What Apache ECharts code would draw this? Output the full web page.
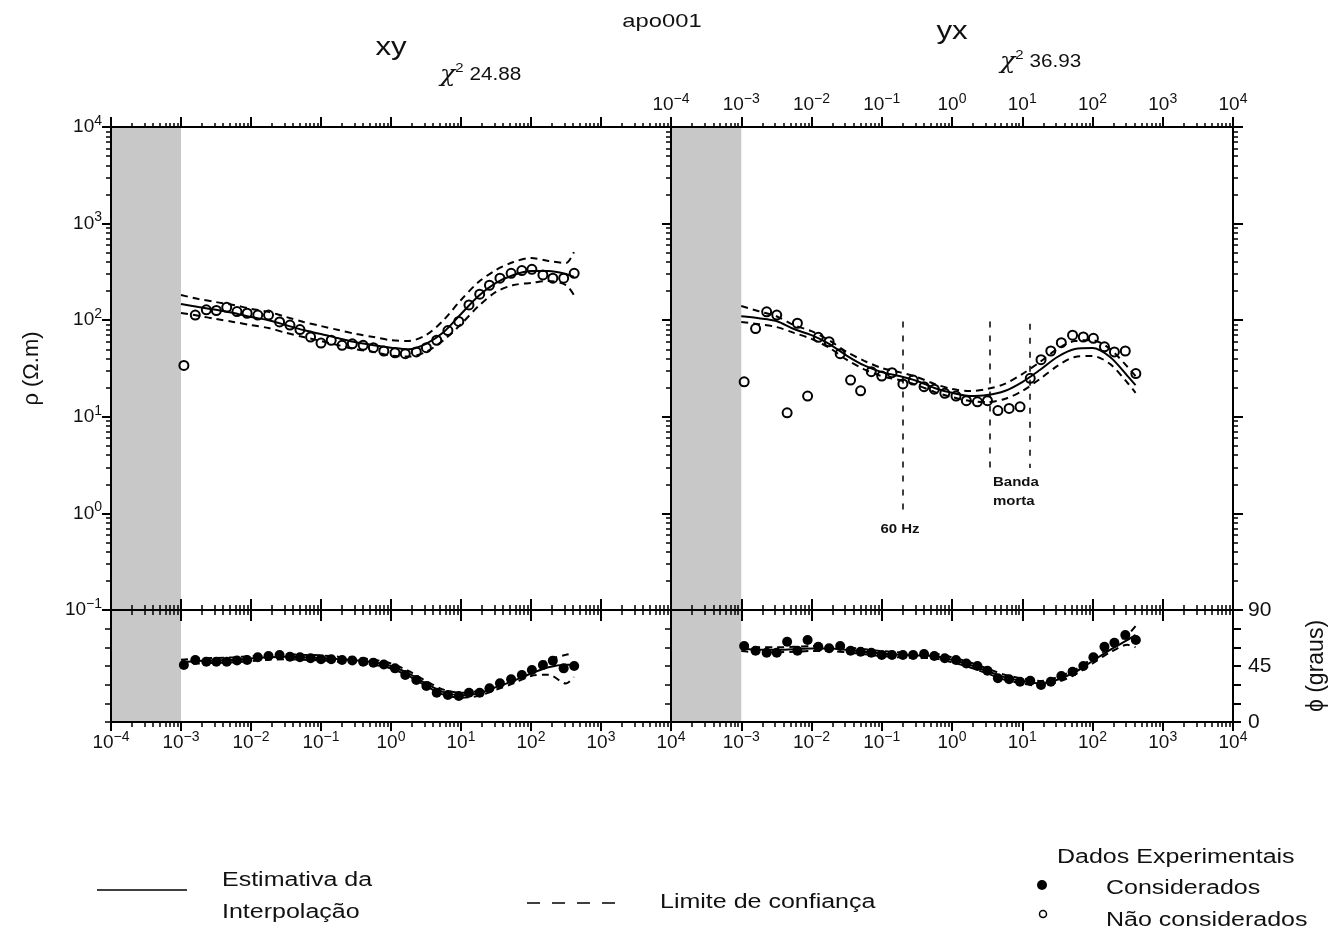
<!DOCTYPE html>
<html><head><meta charset="utf-8">
<script src="https://cdn.jsdelivr.net/npm/echarts@6/dist/echarts.min.js"></script>
<style>html,body{margin:0;padding:0;background:#fff}#c{width:1340px;height:938px}</style>
</head><body><div id="c"></div>
<script>
// ---- data (periods in s, resistivity in ohm.m, phase in degrees) ----
const periods = [0.0011,0.0016,0.0023,0.0032,0.0045,0.0063,0.0088,0.0125,0.0178,0.0256,0.036,0.05,0.071,0.1,0.14,0.2,0.28,0.4,0.56,0.79,1.14,1.6,2.3,3.2,4.5,6.5,9.3,13,18.5,25.5,36,52,74,103,148,205,293,414];
const xyRho = [34,113,128,126,136,123,118,113,113,96,89,80,67,58,62,55,57,55,52,48,46,45,47,52,62,78,97,144,186,230,272,306,326,336,294,272,272,306];
const xyPhase = [45.8,49.8,48.5,48.5,48.5,49.4,49.8,52,53,53.8,52.4,52,51.2,50.4,50.4,49.8,49.4,48.5,47.7,46.2,43.1,37.8,33.7,28.9,23.5,21.7,20.9,23.5,23.5,27.1,31.1,34.3,37.8,41.8,45.8,49.3,43.1,45];
const yxRho = [23,82,122,113,11,93,16.4,66.5,60,45,24,18.6,29.3,26.4,28.6,21.9,24,20.5,19.3,17.5,16.4,14.7,14.3,14.7,11.6,12.2,12.7,25,39,48,58.5,70,67,65,53,47,48,28];
const yxPhase = [61.1,57.3,55.7,55.7,64.5,57.3,65.9,60.5,59.2,61.1,57.3,56.5,55.7,53.8,53.8,53.8,53.8,54.6,53,51.2,49.8,47,45,41.2,35.1,34.3,32.4,33.2,29.7,32.4,37,40.4,45,52,60.5,63.7,69.9,65.9];

const fitPeriods = [0.001,0.00178,0.00316,0.00562,0.01,0.0178,0.0316,0.0562,0.1,0.178,0.316,0.562,1,1.78,3.16,5.62,10,17.8,31.6,56.2,100,178,316,410];
const xyRhoFit   = [147,137,128,119,108,100,89,79,72,65,59,55,52,50,57,75,116,178,243,294,323,323,301,280];
const xyRhoUpper = [182,166,154,144,131,122,108,96,87,79,72,67,62,61,70,100,162,248,331,400,440,410,391,508];
const xyRhoLower = [119,111,103,96,89,83,74,67,61,55,50,47,43,42,47,62,91,140,196,231,243,255,231,182];
const yxRhoFit   = [110,105,98,81,70,57,43,34,29,26.4,23.5,19.9,17.7,16.4,16.8,18.5,22.9,30.5,41.6,50.3,51.5,41.6,26.4,21.3];
const yxRhoUpper = [140,124,110,89,77,62,47,38,32,29,25.8,21.9,19.4,18.5,19.4,21.9,27.7,36.9,50.3,61,62,50.3,32.8,26.4];
const yxRhoLower = [96,91,85,74,64,52,39,31,26.4,24,21.3,18.1,16,14.6,14.2,15.3,18.5,24.6,33.6,41.6,42.6,35.2,22.4,17.7];
const xyPhaseFit   = [48,49,49.5,50,51,52,52.5,52,51.5,50.5,49.5,48,45,39,31,24,21.5,23,28,33,39,44,46,46];
const xyPhaseUpper = [50,51,51.5,52,53,54,54.5,54,53.5,52.5,51.5,50,47,41,33,26,23.5,25,30,35,41,50,54,55];
const xyPhaseLower = [46,47,47.5,48,49,50,50.5,50,49.5,48.5,47.5,46,43,37,29,22,19.5,21,26,31,37,38,31,36];
const yxPhaseFit   = [59,58,58,58.5,59,59,58,56.5,55,54,53.5,53,50,46,41,36,33,31,34,40,49,58,66,70];
const yxPhaseUpper = [61,60,60,60.5,61,61,60,58.5,57,56,55.5,55,52,48,43,38,35,33,36,42,51,60,70,77];
const yxPhaseLower = [57,56,56,56.5,57,57,56,54.5,53,52,51.5,51,48,44,39,34,31,29,32,38,47,56,62,60];

const markerPeriods = [0.196, 3.4, 12.9];
const markerTop = [97, 97, 92];
const markerBottom = [1.08, 2.95, 2.95];

const xDecades = [-4,-3,-2,-1,0,1,2,3,4];
const rhoDecades = [-1,0,1,2,3,4];
const phaseTicks = [0,15,30,45,60,75,90];
const phaseLabels = [0,45,90];

// ---- helpers ----
const FONT = "'Liberation Sans', Arial, Helvetica, sans-serif";
const lg = Math.log10;
const minorX = []; for (let n=-4;n<4;n++) for (let k=2;k<=9;k++) minorX.push(n+lg(k));
const minorY = []; for (let n=-1;n<4;n++) for (let k=2;k<=9;k++) minorY.push(n+lg(k));
function supLabel(v){ const e=Math.round(v); return '{b|10}{s|'+(e<0?'\u2212':'')+Math.abs(e)+'}'; }
const rich = {
  b:{fontSize:19,fontFamily:FONT,color:'#111',lineHeight:26},
  s:{fontSize:14,fontFamily:FONT,color:'#111',lineHeight:14,verticalAlign:'top'}
};

const grids = [
  {left:111, top:127, width:560, height:483, outerBoundsMode:'none'},
  {left:111, top:610, width:560, height:112, outerBoundsMode:'none'},
  {left:671, top:127, width:562, height:483, outerBoundsMode:'none'},
  {left:671, top:610, width:562, height:112, outerBoundsMode:'none'}
];
const xAxes=[], yAxes=[], xIdx=[], yIdx=[];
function addX(g,pos,ticks,len,inside,labels,line,margin){
  xAxes.push({type:'value',gridIndex:g,position:pos,min:-4,max:4,z:5,silent:true,
    axisLine:{show:line,onZero:false,lineStyle:{color:'#000',width:2}},
    axisTick:{show:true,inside:inside,length:len,customValues:ticks,lineStyle:{color:'#000',width:len>6?2:1.5}},
    axisLabel:labels?{show:true,customValues:labels,formatter:supLabel,rich:rich,margin:margin}:{show:false},
    splitLine:{show:false}});
  return xAxes.length-1;
}
function addY(g,pos,min,max,ticks,len,labels,line,extra){
  yAxes.push(Object.assign({type:'value',gridIndex:g,position:pos,min:min,max:max,z:5,silent:true,
    axisLine:{show:line,onZero:false,lineStyle:{color:'#000',width:2}},
    axisTick:{show:true,inside:false,length:len,customValues:ticks,lineStyle:{color:'#000',width:len>6?2:1.5}},
    axisLabel:{show:false},
    splitLine:{show:false}}, extra||{}));
  if (labels) yAxes[yAxes.length-1].axisLabel = labels;
  return yAxes.length-1;
}
// grid 0: xy rho
xIdx[0]=addX(0,'bottom',xDecades,11,true,null,true);
addX(0,'bottom',minorX,5,true,null,false);
addX(0,'top',xDecades,10,false,null,true);
addX(0,'top',minorX,4,false,null,false);
yIdx[0]=addY(0,'left',-1,4,rhoDecades,9,
  {show:true,customValues:rhoDecades,formatter:supLabel,rich:rich,margin:9},true,
  {name:'\u03c1 (\u03a9.m)',nameLocation:'middle',nameGap:68,nameTextStyle:{fontSize:22,fontFamily:FONT,color:'#111'}});
addY(0,'left',-1,4,minorY,5,null,false);
// grid 1: xy phase
xIdx[1]=addX(1,'bottom',xDecades,9,false,xDecades,true,8);
addX(1,'bottom',minorX,5,false,null,false);
addX(1,'top',xDecades,11,true,null,true);
addX(1,'top',minorX,5,true,null,false);
yIdx[1]=addY(1,'left',0,90,phaseTicks,6,null,true);
// grid 2: yx rho
xIdx[2]=addX(2,'bottom',xDecades,11,true,null,true);
addX(2,'bottom',minorX,5,true,null,false);
addX(2,'top',xDecades,10,false,xDecades,true,9);
addX(2,'top',minorX,4,false,null,false);
yIdx[2]=addY(2,'left',-1,4,rhoDecades,9,null,true);
addY(2,'left',-1,4,minorY,5,null,false);
addY(2,'right',-1,4,rhoDecades,10,null,true);
addY(2,'right',-1,4,minorY,5,null,false);
// grid 3: yx phase
xIdx[3]=addX(3,'bottom',xDecades,9,false,xDecades.slice(1),true,8);
addX(3,'bottom',minorX,5,false,null,false);
addX(3,'top',xDecades,11,true,null,true);
addX(3,'top',minorX,5,true,null,false);
yIdx[3]=addY(3,'left',0,90,phaseTicks,6,null,true);
addY(3,'right',0,90,phaseTicks,8,
  {show:true,customValues:phaseLabels,fontSize:21,fontFamily:FONT,color:'#111',margin:15},true,
  {name:'\u03d5 (graus)',nameLocation:'middle',nameGap:72,nameTextStyle:{fontSize:23,fontFamily:FONT,color:'#111'}});

const grayArea = {silent:true,itemStyle:{color:'#c8c8c8',opacity:1},data:[[{xAxis:-4},{xAxis:-3}]]};
function scatter(g, ys, isLog, filled, extra){
  return Object.assign({type:'scatter',xAxisIndex:xIdx[g],yAxisIndex:yIdx[g],z:4,silent:true,
    data:periods.map((p,i)=>[lg(p), isLog?lg(ys[i]):ys[i]]),
    symbol:'circle',symbolSize:filled?10:9,
    itemStyle:filled?{color:'#000',opacity:1}:{color:'rgba(255,255,255,0)',borderColor:'#000',borderWidth:2,opacity:1},
    markArea:grayArea}, extra||{});
}
function curve(g, ys, isLog, dashed){
  return {type:'line',xAxisIndex:xIdx[g],yAxisIndex:yIdx[g],z:3,silent:true,smooth:0.3,showSymbol:false,symbol:'none',
    data:fitPeriods.map((p,i)=>[lg(p), isLog?lg(ys[i]):ys[i]]),
    lineStyle:{color:'#000',width:2,type:dashed?[7,5]:'solid'}};
}
const markerLines = {silent:true,symbol:'none',label:{show:false},
  lineStyle:{color:'#000',width:1.5,type:[6,8]},
  data:markerPeriods.map((p,i)=>[{coord:[lg(p),lg(markerTop[i])]},{coord:[lg(p),lg(markerBottom[i])]}])};

const series = [
  curve(0,xyRhoFit,true,false), curve(0,xyRhoUpper,true,true), curve(0,xyRhoLower,true,true),
  scatter(0,xyRho,true,false),
  curve(1,xyPhaseFit,false,false), curve(1,xyPhaseUpper,false,true), curve(1,xyPhaseLower,false,true),
  scatter(1,xyPhase,false,true),
  curve(2,yxRhoFit,true,false), curve(2,yxRhoUpper,true,true), curve(2,yxRhoLower,true,true),
  scatter(2,yxRho,true,false,{markLine:markerLines}),
  curve(3,yxPhaseFit,false,false), curve(3,yxPhaseUpper,false,true), curve(3,yxPhaseLower,false,true),
  scatter(3,yxPhase,false,true)
];

const SX = 1.25;
function txt(x,y,text,size,align,extra){
  return {type:'text',x:x,y:y,scaleX:SX,silent:true,z:10,
    style:Object.assign({text:text,fontSize:size,fontFamily:FONT,fill:'#111',align:align||'left',verticalAlign:'middle'},extra||{})};
}
const chiRich = {
  c:{fontSize:22,fontFamily:"'DejaVu Serif', serif",fontStyle:'italic',fill:'#111',lineHeight:26},
  s:{fontSize:13,fontFamily:FONT,fill:'#111',lineHeight:13,verticalAlign:'top'},
  n:{fontSize:18,fontFamily:FONT,fill:'#111',lineHeight:26}
};
const graphic = [
  txt(662,22,'apo001',19,'center'),
  txt(391,48,'xy',25,'center',{}),
  txt(952,32,'yx',25,'center'),
  {type:'text',x:440,y:75,scaleX:1.15,silent:true,style:{text:'{c|\u03c7}{s|2}{n| 24.88}',rich:chiRich,verticalAlign:'middle',align:'left'}},
  {type:'text',x:1000,y:62,scaleX:1.15,silent:true,style:{text:'{c|\u03c7}{s|2}{n| 36.93}',rich:chiRich,verticalAlign:'middle',align:'left'}},
  txt(900,530,'60 Hz',12,'center',{fontWeight:'bold'}),
  txt(993,483,'Banda',12,'left',{fontWeight:'bold'}),
  txt(993,502,'morta',12,'left',{fontWeight:'bold'}),
  {type:'line',silent:true,shape:{x1:97,y1:890,x2:187,y2:890},style:{stroke:'#000',lineWidth:1.5}},
  txt(222,880,'Estimativa da',20),
  txt(222,912,'Interpola\u00e7\u00e3o',20),
  {type:'line',silent:true,shape:{x1:527,y1:903,x2:615,y2:903},style:{stroke:'#000',lineWidth:1.5,lineDash:[13,12]}},
  txt(660,902,'Limite de confian\u00e7a',20),
  txt(1057,857,'Dados Experimentais',20),
  {type:'circle',silent:true,shape:{cx:1042,cy:885,r:5},style:{fill:'#000'}},
  txt(1106,888,'Considerados',20),
  {type:'circle',silent:true,shape:{cx:1043,cy:914,r:3.5},style:{fill:'#fff',stroke:'#000',lineWidth:1.5}},
  txt(1106,920,'N\u00e3o considerados',20)
];

const chart = echarts.init(document.getElementById('c'), null, {renderer:'canvas'});
chart.setOption({
  animation:false,
  backgroundColor:'#fff',
  grid:grids, xAxis:xAxes, yAxis:yAxes, series:series, graphic:graphic
});
</script></body></html>
